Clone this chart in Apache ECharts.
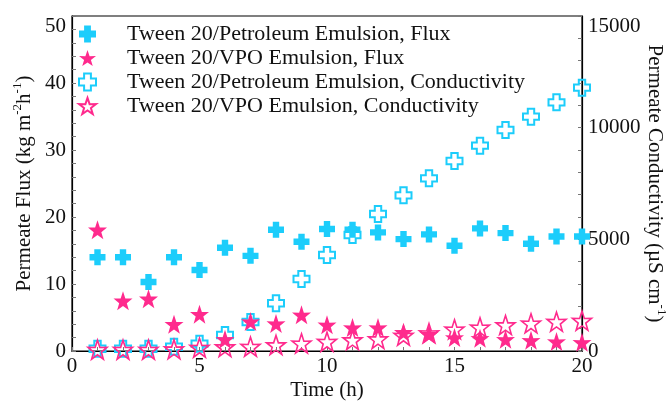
<!DOCTYPE html>
<html>
<head>
<meta charset="utf-8">
<script src="https://cdn.jsdelivr.net/npm/echarts@6/dist/echarts.min.js"></script>
<style>
  html, body { margin: 0; padding: 0; background: #fff; }
  #chart { width: 669px; height: 404px; }
</style>
</head>
<body>
<div id="chart"></div>
<script>
// time in hours
var hours = [1, 2, 3, 4, 5, 6, 7, 8, 9, 10, 11, 12, 13, 14, 15, 16, 17, 18, 19, 20]
// permeate flux (kg m-2 h-1)
var petroFlux = [14.0, 14.0, 10.3, 14.0, 12.1, 15.4, 14.2, 18.1, 16.3, 18.2, 18.1, 17.7, 16.7, 17.4, 15.7, 18.3, 17.6, 16.0, 17.1, 17.1]
var vpoFlux = [18.1, 7.5, 7.8, 4.0, 5.5, 1.75, 4.4, 4.1, 5.4, 3.9, 3.5, 3.5, 2.8, 2.5, 2.0, 1.9, 1.75, 1.6, 1.4, 1.3]
// permeate conductivity (uS cm-1)
var petroCond = [100, 100, 100, 190, 330, 716, 1300, 2135, 3224, 4300, 5194, 6134, 6970, 7731, 8507, 9194, 9896, 10493, 11134, 11791]
var vpoCond = [60, 60, 60, 80, 150, 180, 194, 269, 343, 418, 493, 537, 690, 800, 970, 1060, 1164, 1239, 1313, 1358]

var legendNames = [
  'Tween 20/Petroleum Emulsion, Flux',
  'Tween 20/VPO Emulsion, Flux',
  'Tween 20/Petroleum Emulsion, Conductivity',
  'Tween 20/VPO Emulsion, Conductivity'
]

var cyan = '#1ccdfb'
var pink = '#ff2a8d'
var crossPath = 'path://M30,0 H70 V30 H100 V70 H70 V100 H30 V70 H0 V30 H30 Z'
var starPath = 'path://M50,0 L61.8,35.1 L97.6,34.5 L69.1,56.7 L79.4,90.5 L50,70 L20.6,90.5 L30.9,56.7 L2.4,34.5 L38.2,35.1 Z'
var font = 'Liberation Serif'

function pairs(ys) {
  return hours.map(function (h, i) { return [h, ys[i]] })
}

var nameRich = {
  t: { fontFamily: font, fontSize: 21, color: '#111', lineHeight: 24, verticalAlign: 'bottom' },
  s: { fontFamily: font, fontSize: 13, color: '#111', lineHeight: 24, verticalAlign: 'top' }
}

var chart = echarts.init(document.getElementById('chart'))
chart.setOption({
  animation: false,
  textStyle: { fontFamily: font },
  grid: {
    left: 72, right: 87, top: 16, bottom: 53,
    outerBoundsMode: 'none',
    containLabel: false,
    show: true, borderColor: '#000', borderWidth: 1.2, backgroundColor: 'transparent'
  },
  legend: {
    orient: 'vertical',
    left: 73,
    top: 17,
    itemWidth: 17,
    itemHeight: 17,
    itemGap: 0,
    textStyle: { fontFamily: font, fontSize: 22, color: '#111', lineHeight: 24, padding: [0, 0, 0, 26] },
    data: legendNames
  },
  xAxis: {
    type: 'value',
    min: 0,
    max: 20,
    interval: 5,
    name: 'Time (h)',
    nameLocation: 'middle',
    nameGap: 29,
    nameMoveOverlap: false,
    nameTextStyle: { fontFamily: font, fontSize: 21, color: '#111' },
    axisLine: { lineStyle: { color: '#000', width: 1.2 } },
    axisTick: { inside: true, length: 4, lineStyle: { color: '#777' } },
    minorTick: { show: true, splitNumber: 5, length: 4, lineStyle: { color: '#777' } },
    axisLabel: { fontFamily: font, fontSize: 21, color: '#111', margin: 5 },
    splitLine: { show: false }
  },
  yAxis: [
    {
      type: 'value',
      min: 0,
      max: 50,
      interval: 10,
      position: 'left',
      name: '{t|Permeate Flux (kg m}{s|-2}{t|h}{s|-1}{t|)}',
      nameLocation: 'middle',
      nameGap: 37,
      nameMoveOverlap: false,
      nameTextStyle: { fontFamily: font, rich: nameRich },
      axisLine: { show: true, lineStyle: { color: '#000', width: 1.2 } },
      axisTick: { inside: true, length: 4, lineStyle: { color: '#777' } },
      minorTick: { show: true, splitNumber: 5, length: 4, lineStyle: { color: '#777' } },
      axisLabel: { fontFamily: font, fontSize: 21, color: '#111', margin: 6, verticalAlignMaxLabel: 'top' },
      splitLine: { show: false }
    },
    {
      type: 'value',
      min: 0,
      max: 15000,
      interval: 5000,
      position: 'right',
      name: '{t|Permeate Conductivity (µS cm}{s|-1}{t|)}',
      nameLocation: 'middle',
      nameRotate: -90,
      nameGap: 62,
      nameMoveOverlap: false,
      nameTextStyle: { fontFamily: font, rich: nameRich },
      axisLine: { show: true, lineStyle: { color: '#000', width: 1.2 } },
      axisTick: { inside: true, length: 4, lineStyle: { color: '#777' } },
      minorTick: { show: true, splitNumber: 5, length: 4, lineStyle: { color: '#777' } },
      axisLabel: {
        fontFamily: font, fontSize: 21, color: '#111', margin: 6, verticalAlignMaxLabel: 'top',
        formatter: function (v) { return String(v) }
      },
      splitLine: { show: false }
    }
  ],
  series: [
    {
      name: legendNames[0],
      type: 'scatter',
      yAxisIndex: 0,
      symbol: crossPath,
      symbolSize: 16,
      itemStyle: { color: cyan, opacity: 1 },
      data: pairs(petroFlux),
      z: 3
    },
    {
      name: legendNames[1],
      type: 'scatter',
      yAxisIndex: 0,
      symbol: starPath,
      symbolSize: 19,
      itemStyle: { color: pink, opacity: 1 },
      data: pairs(vpoFlux),
      z: 4
    },
    {
      name: legendNames[2],
      type: 'scatter',
      yAxisIndex: 1,
      symbol: crossPath,
      symbolSize: 16,
      itemStyle: { color: 'rgba(255,255,255,0)', borderColor: cyan, borderWidth: 2, opacity: 1 },
      data: pairs(petroCond),
      z: 2
    },
    {
      name: legendNames[3],
      type: 'scatter',
      yAxisIndex: 1,
      symbol: starPath,
      symbolSize: 19,
      itemStyle: { color: 'rgba(255,255,255,0)', borderColor: pink, borderWidth: 1.6, opacity: 1 },
      data: pairs(vpoCond),
      z: 2
    }
  ]
})
</script>
</body>
</html>
